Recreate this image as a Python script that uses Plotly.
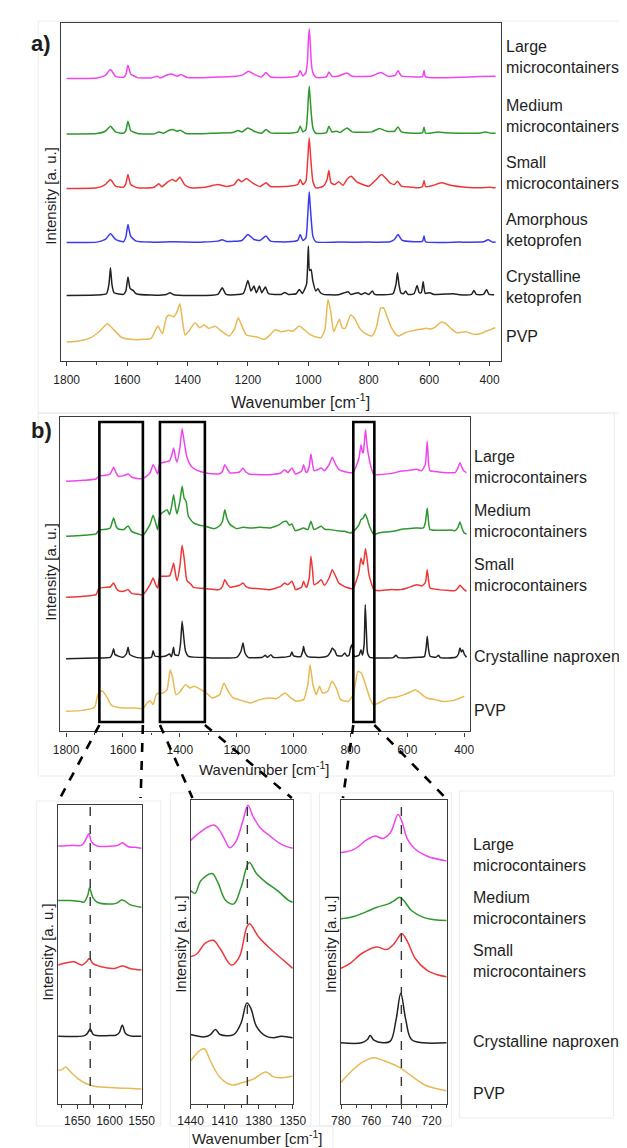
import plotly.graph_objects as go

W, H = 627, 1148

# ===================== DATA (wavenumber cm-1, intensity a.u. as stacked) =====================
A_NAMES = ["Large<br>microcontainers", "Medium<br>microcontainers", "Small<br>microcontainers",
           "Amorphous<br>ketoprofen", "Crystalline<br>ketoprofen", "PVP"]
B_NAMES = ["Large<br>microcontainers", "Medium<br>microcontainers", "Small<br>microcontainers",
           "Crystalline naproxen", "PVP"]

A_LARGE = [(1800,848),(1700,850),(1672,858),(1655,875),(1638,855),(1612,852),(1604,860),(1597,888),(1588,862),
           (1565,851),(1520,850),(1500,855),(1490,850),(1470,858),(1452,862),(1435,855),(1422,860),(1400,851),
           (1320,852),(1240,855),(1215,860),(1198,870),(1178,860),(1155,853),(1140,866),(1125,853),(1065,852),
           (1035,856),(1027,872),(1018,856),(1008,866),(1003,900),(1000,960),(997,998),(994,960),(990,895),
           (985,866),(975,852),(940,853),(932,868),(922,855),(900,856),(872,865),(855,855),(790,856),(760,866),
           (735,855),(712,858),(703,872),(692,856),(640,853),(622,854),(617,872),(612,853),(500,852),(430,854),(380,855)]
A_MEDIUM = [(1800,682),(1700,683),(1672,690),(1655,705),(1638,688),(1612,684),(1604,692),(1597,720),(1588,692),
            (1565,683),(1510,682),(1495,688),(1480,684),(1460,693),(1448,695),(1435,690),(1424,693),(1405,683),
            (1320,684),(1250,686),(1232,692),(1220,688),(1200,700),(1180,690),(1155,684),(1140,695),(1125,685),
            (1065,684),(1035,688),(1027,705),(1018,688),(1008,695),(1003,740),(1000,790),(997,825),(994,790),
            (990,740),(985,700),(975,684),(940,686),(932,705),(922,688),(905,690),(895,686),(872,700),(855,688),
            (790,688),(765,698),(740,690),(715,690),(703,703),(692,688),(640,684),(622,686),(617,702),(612,684),
            (570,688),(555,686),(500,684),(430,685),(415,688),(395,684),(380,684)]
A_SMALL = [(1800,518),(1700,520),(1672,530),(1655,545),(1638,525),(1612,522),(1604,532),(1597,560),(1588,530),
           (1565,520),(1510,522),(1495,532),(1485,523),(1465,538),(1450,545),(1438,540),(1425,552),(1410,530),
           (1390,520),(1340,522),(1300,530),(1270,524),(1245,530),(1232,545),(1220,538),(1205,548),(1185,535),
           (1160,524),(1140,535),(1125,524),(1065,525),(1035,530),(1027,545),(1018,530),(1008,540),(1003,590),
           (1000,635),(997,670),(994,635),(990,585),(985,540),(975,520),(950,525),(938,545),(932,572),(925,535),
           (912,530),(900,538),(885,528),(870,548),(858,555),(840,538),(800,525),(775,545),(758,560),(745,550),
           (730,535),(715,530),(705,540),(692,525),(660,522),(635,520),(622,524),(617,542),(612,524),(590,526),
           (560,535),(530,528),(480,522),(430,520),(400,522),(380,520)]
A_AMORPH = [(1800,356),(1700,357),(1672,365),(1655,382),(1638,365),(1612,358),(1604,372),(1597,410),(1588,375),
            (1570,360),(1520,357),(1450,358),(1350,357),(1300,360),(1285,364),(1270,359),(1220,362),(1200,380),
            (1180,365),(1160,362),(1140,375),(1125,360),(1065,358),(1035,362),(1027,380),(1018,362),(1008,370),
            (1003,420),(1000,470),(997,508),(994,470),(990,420),(985,375),(975,358),(900,357),(800,357),(730,358),
            (715,365),(703,380),(690,363),(650,358),(622,360),(617,375),(612,358),(500,357),(420,358),(405,364),
            (390,357),(380,357)]
A_CRYST = [(1800,197),(1700,198),(1668,202),(1660,230),(1655,280),(1650,230),(1643,205),(1612,200),(1604,210),
           (1597,252),(1590,218),(1580,212),(1570,202),(1520,198),(1470,200),(1458,205),(1445,199),(1300,200),
           (1285,220),(1272,200),(1215,203),(1200,242),(1190,210),(1180,225),(1172,205),(1162,225),(1154,205),
           (1142,222),(1132,202),(1090,200),(1078,206),(1066,200),(1040,202),(1030,215),(1020,203),(1006,230),
           (1000,345),(996,272),(991,275),(985,240),(975,210),(968,217),(960,205),(950,200),(900,199),(868,208),
           (860,200),(835,205),(825,200),(812,205),(800,200),(788,210),(780,200),(720,202),(710,230),(705,265),
           (700,230),(694,205),(685,202),(678,210),(670,200),(650,202),(640,227),(633,205),(626,205),(620,238),
           (613,203),(598,205),(585,200),(520,202),(500,199),(460,200),(452,212),(444,200),(420,200),(410,215),
           (402,200),(385,199)]
A_PVP = [(1800,57),(1760,60),(1720,70),(1690,90),(1665,112),(1645,95),(1620,72),(1590,65),(1540,65),(1520,68),
         (1505,95),(1498,105),(1483,82),(1470,130),(1462,138),(1445,133),(1436,145),(1425,172),(1418,130),
         (1408,78),(1395,90),(1375,115),(1360,100),(1345,108),(1330,98),(1308,104),(1285,88),(1262,75),(1245,95),
         (1232,130),(1222,110),(1205,78),(1170,72),(1145,65),(1125,80),(1110,94),(1090,88),(1066,92),(1050,90),
         (1030,105),(1015,95),(995,80),(975,72),(958,70),(945,95),(935,185),(926,150),(916,88),(905,110),(897,125),
         (888,100),(878,98),(860,138),(845,125),(830,98),(810,82),(790,75),(775,100),(760,160),(750,158),(738,130),
         (725,100),(710,80),(700,75),(680,85),(650,92),(630,95),(610,98),(595,96),(580,102),(560,117),(545,112),
         (525,95),(508,85),(480,88),(450,80),(432,82),(410,90),(395,95),(381,100)]

B_LARGE = [(1800,750),(1740,753),(1695,757),(1685,765),(1660,768),(1645,772),(1633,792),(1624,775),(1616,765),
           (1598,767),(1582,772),(1570,763),(1545,758),(1530,758),(1505,775),(1494,800),(1485,785),(1478,772),
           (1472,800),(1467,805),(1450,808),(1436,812),(1428,830),(1422,850),(1415,820),(1410,808),(1400,850),
           (1392,908),(1385,870),(1375,822),(1360,795),(1345,785),(1307,775),(1262,772),(1250,780),(1242,800),
           (1232,785),(1223,775),(1190,778),(1178,790),(1168,778),(1156,772),(1120,770),(1083,770),(1045,775),
           (1032,785),(1020,776),(1006,790),(998,778),(993,772),(972,780),(965,800),(958,780),(954,776),(945,795),
           (939,832),(933,800),(928,782),(915,785),(903,790),(892,782),(875,800),(864,822),(852,800),(841,786),
           (815,778),(791,776),(780,795),(770,820),(763,860),(758,838),(755,835),(750,880),(747,905),(742,860),
           (735,820),(725,785),(718,770),(701,770),(660,773),(623,780),(600,782),(567,786),(550,782),(537,800),
           (530,870),(525,800),(520,782),(490,778),(460,776),(432,776),(422,790),(415,806),(408,792),(400,780),(392,776)]
B_MEDIUM = [(1800,585),(1740,588),(1695,592),(1685,603),(1660,606),(1645,610),(1633,640),(1624,615),(1616,607),
            (1598,605),(1582,616),(1570,600),(1545,592),(1530,588),(1505,620),(1494,648),(1485,625),(1478,605),
            (1472,640),(1467,652),(1455,660),(1445,665),(1436,650),(1428,680),(1422,710),(1415,670),(1410,652),
            (1400,690),(1392,735),(1385,700),(1378,690),(1370,645),(1352,625),(1330,618),(1310,615),(1280,608),
            (1262,615),(1250,630),(1242,665),(1235,640),(1223,620),(1200,608),(1178,612),(1150,610),(1120,612),
            (1083,610),(1050,620),(1040,627),(1025,630),(1015,618),(1006,622),(995,602),(980,605),(965,610),
            (950,605),(939,630),(932,612),(928,605),(903,615),(890,606),(870,605),(850,602),(820,600),(800,595),
            (780,608),(770,620),(763,635),(755,640),(748,652),(740,635),(735,620),(725,600),(718,590),(701,595),
            (650,600),(620,606),(600,608),(570,610),(544,610),(537,625),(530,670),(525,625),(520,605),(480,603),
            (450,604),(432,602),(422,612),(415,628),(408,610),(400,595),(392,592)]
B_SMALL = [(1800,402),(1740,405),(1695,410),(1685,428),(1660,432),(1645,433),(1633,445),(1624,430),(1616,422),
           (1598,420),(1582,425),(1570,414),(1545,411),(1530,410),(1505,440),(1494,460),(1485,440),(1478,430),
           (1472,460),(1467,465),(1450,465),(1436,466),(1428,485),(1422,505),(1415,470),(1410,452),(1400,495),
           (1392,558),(1385,520),(1375,452),(1360,440),(1352,432),(1307,428),(1262,425),(1250,435),(1242,455),
           (1232,440),(1223,432),(1190,438),(1178,445),(1168,435),(1156,430),(1120,428),(1083,425),(1045,435),
           (1032,445),(1020,440),(1006,450),(998,435),(993,425),(972,432),(965,450),(958,435),(954,432),(945,460),
           (939,525),(933,480),(928,440),(915,445),(903,455),(892,438),(875,460),(864,485),(852,465),(841,445),
           (815,432),(791,428),(780,450),(770,480),(763,520),(758,505),(755,500),(750,530),(747,548),(742,520),
           (735,470),(725,440),(718,425),(701,422),(660,425),(623,425),(600,430),(567,440),(550,436),(537,445),
           (530,485),(525,450),(520,430),(490,425),(460,423),(432,422),(422,430),(415,438),(408,432),(400,425),(392,420)]
B_CRYST = [(1800,218),(1700,220),(1645,222),(1638,232),(1633,248),(1628,230),(1600,222),(1588,232),(1582,252),
           (1576,230),(1550,221),(1500,222),(1494,242),(1488,226),(1470,224),(1450,226),(1436,232),(1430,224),
           (1426,236),(1422,252),(1418,230),(1405,228),(1398,260),(1392,330),(1386,280),(1380,240),(1370,225),
           (1300,221),(1270,220),(1200,222),(1185,240),(1178,265),(1171,235),(1160,222),(1110,222),(1100,228),
           (1092,222),(1080,230),(1072,222),(1040,222),(1012,226),(1006,238),(1000,226),(975,224),(968,240),
           (965,255),(961,238),(950,224),(900,222),(880,226),(870,238),(864,250),(858,244),(855,242),(848,228),
           (830,226),(820,235),(813,226),(805,228),(800,250),(795,260),(790,232),(785,224),(780,225),(770,228),
           (763,245),(758,228),(752,260),(748,380),(744,300),(740,235),(732,222),(700,220),(650,221),(640,228),
           (632,221),(560,222),(540,224),(534,250),(530,285),(526,250),(520,225),(500,222),(490,228),(484,221),
           (430,222),(420,232),(415,250),(410,238),(405,244),(400,232),(392,222)]
B_PVP = [(1800,60),(1750,62),(1700,72),(1688,110),(1673,122),(1655,100),(1640,78),(1600,70),(1560,70),(1531,68),
         (1515,85),(1505,92),(1494,80),(1482,112),(1460,115),(1445,125),(1434,185),(1425,160),(1414,110),(1400,118),
         (1380,140),(1365,130),(1350,135),(1326,125),(1300,110),(1286,100),(1260,110),(1245,145),(1230,120),
         (1212,100),(1180,92),(1151,85),(1120,95),(1084,100),(1060,98),(1030,115),(1010,100),(990,90),(965,95),
         (950,140),(942,200),(932,140),(920,110),(909,135),(898,115),(880,120),(865,150),(850,130),(835,95),
         (808,90),(790,110),(774,180),(762,175),(747,140),(732,100),(720,80),(700,85),(666,100),(640,102),
         (612,110),(590,118),(572,125),(555,115),(532,100),(500,95),(478,90),(440,92),(420,98),(400,105)]

C1_LARGE = [(1680,780),(1660,782),(1643,783),(1636,803),(1632,817),(1628,793),(1619,780),(1595,780),(1587,782),
            (1580,790),(1571,778),(1560,776),(1550,773)]
C1_MEDIUM = [(1680,615),(1661,615),(1645,612),(1640,610),(1634,630),(1631,653),(1626,625),(1619,610),(1595,605),
             (1588,608),(1581,617),(1577,615),(1568,603),(1550,595)]
C1_SMALL = [(1680,420),(1667,427),(1655,430),(1643,420),(1637,428),(1631,440),(1626,425),(1613,415),(1592,410),
            (1580,417),(1568,410),(1550,405)]
C1_CRYST = [(1680,205),(1640,206),(1635,212),(1630,227),(1625,210),(1600,207),(1590,208),(1585,215),(1580,238),
            (1575,213),(1568,206),(1550,205)]
C1_PVP = [(1680,102),(1674,104),(1668,112),(1662,100),(1648,75),(1637,62),(1619,52),(1600,50),(1580,48),
          (1565,47),(1550,45)]

C2_LARGE = [(1440,797),(1434,815),(1426,835),(1419,843),(1414,825),(1410,800),(1405.6,775),(1400.6,790),(1394,855),
            (1389.5,903),(1385,870),(1378.7,835),(1370,810),(1360,785),(1350,773)]
C2_MEDIUM = [(1440,645),(1436,637),(1431,675),(1421,697),(1416,670),(1409,615),(1402,605),(1395.5,655),(1388.4,730),
             (1382,697),(1373.6,670),(1363.5,645),(1353.4,615),(1350,610)]
C2_SMALL = [(1440,445),(1434,455),(1427.5,485),(1420,495),(1414,470),(1404,420),(1397,445),(1390.5,535),(1388,545),
            (1380,505),(1370,470),(1360,440),(1350,410)]
C2_CRYST = [(1440,210),(1427.5,203),(1422.5,210),(1418,225),(1414,210),(1402,210),(1395.5,245),(1390.5,305),
            (1387,290),(1382,235),(1373.6,205),(1367,200),(1360,205),(1350,200)]
C2_PVP = [(1440,130),(1432.6,160),(1428,167),(1422.5,130),(1414,80),(1404,58),(1394,65),(1385,75),(1373.6,97),
          (1367,82),(1357,80),(1350,85)]

C3_LARGE = [(780,760),(771.4,770),(762.5,800),(757.4,810),(752.4,803),(747.3,820),(742.2,875),(739.7,855),
            (735.9,800),(730.8,770),(723.2,750),(710,735)]
C3_MEDIUM = [(780,560),(771.4,567),(763.8,580),(756.2,595),(748.6,605),(744.7,615),(741,625),(738.4,615),
             (733.3,585),(725.7,565),(718,557),(710,555)]
C3_SMALL = [(780,410),(774,425),(766.3,455),(756.2,475),(749.8,467),(744.7,485),(739.7,515),(735.9,490),
            (730.8,440),(723.2,405),(715.6,390),(710,385)]
C3_CRYST = [(780,185),(766.3,185),(762.5,195),(760.7,207),(758.2,193),(752.4,185),(747.3,190),(743.5,255),
            (740.4,335),(737.1,255),(733.3,195),(725.7,185),(710,185)]
C3_PVP = [(780,65),(774,95),(766.3,125),(758.7,140),(751,130),(741,110),(733.3,85),(723.2,55),(710,40)]

B_WINDOWS = [(1683, 1530), (1470, 1312), (790, 716)]   # boxes drawn on panel b
ZOOM_RANGES = [(1680, 1550), (1440, 1350), (780, 710)]
ZOOM_MARKS = [1630, 1390, 740]

# ===================== STYLE =====================
C_LARGE, C_MED, C_SMALL, C_AMOR, C_CRYS, C_PVP = "#ef45ef", "#2e982e", "#ee3838", "#3a3aee", "#222222", "#e8b954"
FRAME = "#3c3c3c"
FONT = "Liberation Sans, Arial, sans-serif"
TXT = "#1e1e1e"

def px(x): return x / W
def py(y): return 1 - y / H

# panel geometry in pixels (left, right, top, bottom)
GA = (42, 502, 15, 353);   XR_A = (1818, 361); YR_A = 1015
GB = (41.2, 468.8, 409.3, 723.3); XR_B = (1820, 381); YR_B = 942
GC = [(38.8, 126, 796.7, 1096), (177.2, 284, 791.7, 1096), (334.4, 444.8, 791.7, 1096)]
YR_C = [905, 920, 920]

fig = go.Figure()

def add(series, color, xa, ya, smoothing, width=1.5):
    fig.add_trace(go.Scatter(x=[p[0] for p in series], y=[p[1] for p in series], mode="lines",
                             line=dict(color=color, width=width, shape="spline", smoothing=smoothing),
                             xaxis=xa, yaxis=ya, showlegend=False, hoverinfo="skip"))

for s, c in zip([A_LARGE, A_MEDIUM, A_SMALL, A_AMORPH, A_CRYST, A_PVP],
                [C_LARGE, C_MED, C_SMALL, C_AMOR, C_CRYS, C_PVP]):
    add(s, c, "x", "y", 0.5)
for s, c in zip([B_LARGE, B_MEDIUM, B_SMALL, B_CRYST, B_PVP], [C_LARGE, C_MED, C_SMALL, C_CRYS, C_PVP]):
    add(s, c, "x2", "y2", 0.5)
for i, group in enumerate([[C1_LARGE, C1_MEDIUM, C1_SMALL, C1_CRYST, C1_PVP],
                           [C2_LARGE, C2_MEDIUM, C2_SMALL, C2_CRYST, C2_PVP],
                           [C3_LARGE, C3_MEDIUM, C3_SMALL, C3_CRYST, C3_PVP]]):
    for s, c in zip(group, [C_LARGE, C_MED, C_SMALL, C_CRYS, C_PVP]):
        add(s, c, f"x{i+3}", f"y{i+3}", 1.0)

def xaxis(g, rng, dtick, tick0, mdtick, anchor, standoff=3):
    return dict(domain=[px(g[0]), px(g[1])], range=list(rng), anchor=anchor,
                showline=True, mirror=True, linecolor=FRAME, linewidth=1.4,
                ticks="outside", ticklen=4, tickwidth=1.2, tickcolor=FRAME,
                tick0=tick0, dtick=dtick,
                minor=dict(tick0=tick0, dtick=mdtick, ticks="outside", ticklen=2.5, tickwidth=1,
                           tickcolor=FRAME, showgrid=False),
                tickfont=dict(size=12, color=TXT, family=FONT),
                showgrid=False, zeroline=False, fixedrange=True, ticklabelstandoff=standoff)

def yaxis(g, ymax, anchor):
    return dict(domain=[py(g[3]), py(g[2])], range=[0, ymax], anchor=anchor,
                showline=True, mirror=True, linecolor=FRAME, linewidth=1.4,
                ticks="", showticklabels=False, showgrid=False, zeroline=False, fixedrange=True)

layout = dict(width=W, height=H, margin=dict(l=0, r=0, t=0, b=0),
              paper_bgcolor="white", plot_bgcolor="white", showlegend=False,
              font=dict(family=FONT, color=TXT))
layout["xaxis"] = xaxis(GA, XR_A, 200, 400, 100, "y")
layout["yaxis"] = yaxis(GA, YR_A, "x")
layout["xaxis2"] = xaxis(GB, XR_B, 200, 400, 100, "y2")
layout["yaxis2"] = yaxis(GB, YR_B, "x2")
ticks_c = [(50, 1550, 25), (30, 1350, 15), (20, 720, 10)]
for i in range(3):
    d, t0, md = ticks_c[i]
    layout[f"xaxis{i+3}"] = xaxis(GC[i], ZOOM_RANGES[i], d, t0, md, f"y{i+3}", standoff=1)
    layout[f"yaxis{i+3}"] = yaxis(GC[i], YR_C[i], f"x{i+3}")
fig.update_layout(**layout)

shapes = []
# faint background frames of the original composite
for (x0, x1, y0, y1) in [(18, 627, 13, 405), (18, 620, 405, 768), (16, 146, 793, 1118), (156, 303, 785, 1118),
                         (312, 450, 785, 1118), (458, 619, 783, 1110), (176, 326, 1118, 1147)]:
    shapes.append(dict(type="rect", xref="paper", yref="paper", x0=px(x0), x1=px(x1), y0=py(y1), y1=py(y0),
                       line=dict(color="#ececec", width=1), layer="below"))

BOX_TOP, BOX_BOT = 414, 714
def xpix_b(wn):
    return GB[0] + (XR_B[0] - wn) / (XR_B[0] - XR_B[1]) * (GB[1] - GB[0])

for i, (w0, w1) in enumerate(B_WINDOWS):
    shapes.append(dict(type="rect", xref="x2", yref="paper", x0=w0, x1=w1, y0=py(BOX_BOT), y1=py(BOX_TOP),
                       line=dict(color="black", width=2.6)))
    g = GC[i]
    for wn, xt in [(w0, g[0] + 2), (w1, g[1] - 1)]:
        shapes.append(dict(type="line", xref="paper", yref="paper",
                           x0=px(xpix_b(wn)), y0=py(BOX_BOT + 3), x1=px(xt), y1=py(790),
                           line=dict(color="black", width=2.6, dash="dash")))
for i, m in enumerate(ZOOM_MARKS):
    shapes.append(dict(type="line", xref=f"x{i+3}", yref=f"y{i+3} domain", x0=m, x1=m, y0=0, y1=1,
                       line=dict(color="#333333", width=1.4, dash="dash")))

ann = []
def text(x, y, s, size=16, **kw):
    d = dict(xref="paper", yref="paper", x=px(x), y=py(y), text=s, showarrow=False,
             font=dict(size=size, color=TXT, family=FONT), xanchor="left", yanchor="middle", align="left")
    d.update(kw)
    ann.append(d)

for name, yc in zip(A_NAMES, [49, 108, 165, 222, 279, 328]):
    text(505, yc, name)
for name, yc in zip(B_NAMES, [459, 513, 567, 648, 702]):
    text(471, yc, name)
for name, yc in zip(B_NAMES, [847, 900, 953, 1033, 1085]):
    text(470, yc, name)

text(21, 36, "<b>a)</b>", size=22, xanchor="center")
text(21, 422, "<b>b)</b>", size=22, xanchor="center")
XT = "Wavenumber [cm<sup>-1</sup>]"
text(292, 393, XT, size=16, xanchor="center")
text(254, 760, XT, size=15, xanchor="center")
text(247, 1129, XT, size=15, xanchor="center", yanchor="middle")
YT = "Intensity [a. u.]"
for (x, y) in [(31, 188), (30, 564), (27, 944), (166, 936), (323, 936)]:
    text(x, y, YT, size=15, xanchor="center", textangle=-90)

fig.update_layout(shapes=shapes, annotations=ann)
fig.write_html("out.html", config={"displayModeBar": False})
